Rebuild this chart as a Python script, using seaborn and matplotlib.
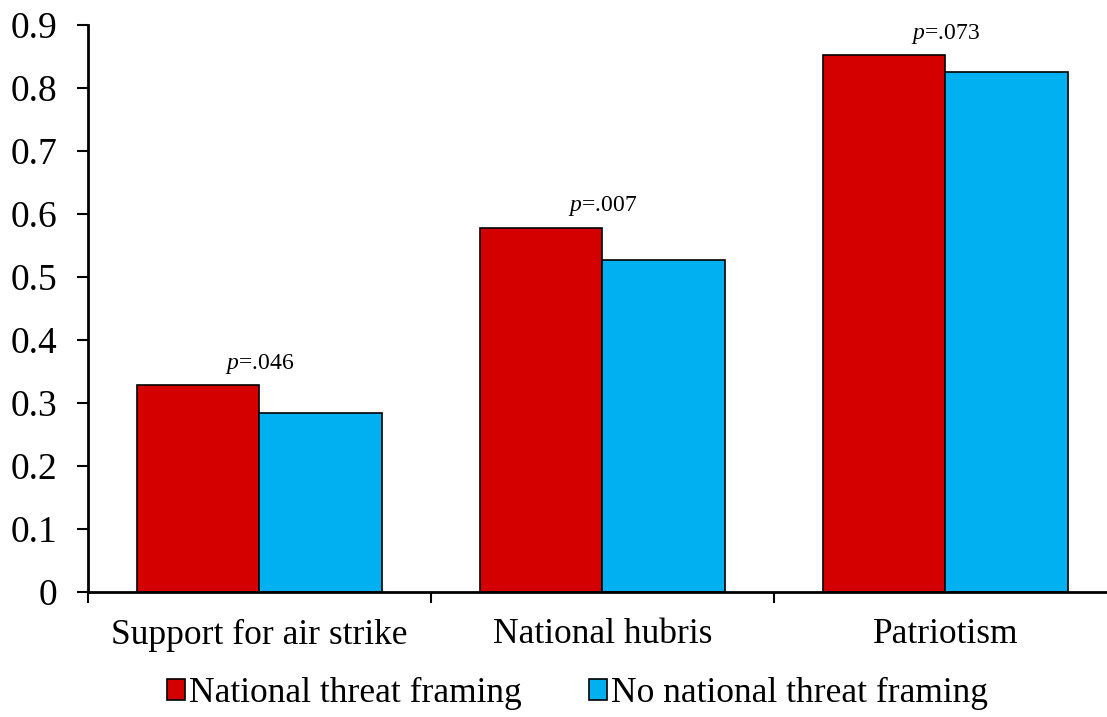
import numpy as np
import pandas as pd
import matplotlib
matplotlib.use('Agg')
import matplotlib.pyplot as plt
import seaborn as sns

categories = ['Support for air strike', 'National hubris', 'Patriotism']
groups = ['National threat framing', 'No national threat framing']
threat_vals = [0.328, 0.578, 0.852]
no_threat_vals = [0.284, 0.527, 0.825]
p_labels = ['.046', '.007', '.073']
colors = ['#D40000', '#00B0F0']

df = pd.DataFrame({
    'category': categories * 2,
    'group': [groups[0]] * 3 + [groups[1]] * 3,
    'value': threat_vals + no_threat_vals,
})

sns.set_style('white')
plt.rcParams['font.family'] = ['Liberation Serif', 'DejaVu Serif']
plt.rcParams['mathtext.fontset'] = 'custom'
plt.rcParams['mathtext.it'] = 'Liberation Serif:italic'
plt.rcParams['mathtext.rm'] = 'Liberation Serif'
plt.rcParams['text.color'] = 'black'
plt.rcParams['xtick.color'] = 'black'
plt.rcParams['ytick.color'] = 'black'

fig = plt.figure(figsize=(11.07, 7.17), dpi=100)
# axis runs past the right edge of the figure, as in the original
ax = fig.add_axes([0.0795, 0.1743, 0.9295, 0.7907])

sns.barplot(data=df, x='category', y='value', hue='group', palette=colors,
            width=0.717, edgecolor='black', linewidth=1.2, saturation=1,
            ax=ax, legend=True)

# p-value annotations above each pair
for i, (tv, p) in enumerate(zip(threat_vals, p_labels)):
    ax.text(i, tv + 0.015, r'$\it{p}$=' + p, ha='center', va='bottom', fontsize=17)

ax.set_ylim(0, 0.9)
ax.set_xlim(-0.5, 2.5)
ax.set_yticks(np.arange(0, 0.91, 0.1))
ax.set_yticklabels(['0'] + [f'{v:.1f}' for v in np.arange(0.1, 0.91, 0.1)])
ax.set_xticks(range(3))
ax.set_xticklabels(categories)
ax.set_xticks([-0.5, 0.5, 1.5, 2.5], minor=True)
ax.tick_params(axis='x', which='major', length=0, pad=19, labelsize=25.5)
ax.tick_params(axis='x', which='minor', length=8, width=1.5, direction='out', bottom=True)
ax.tick_params(axis='y', length=8, width=1.5, direction='out', left=True, labelsize=27, pad=14)
ax.set_xlabel('')
ax.set_ylabel('')

sns.despine(ax=ax)
for s in ['left', 'bottom']:
    ax.spines[s].set_linewidth(2)
    ax.spines[s].set_color('black')

leg = ax.legend(loc='center', bbox_to_anchor=(0.522, 0.033), bbox_transform=fig.transFigure,
                ncol=2, frameon=False, fontsize=25.5, handlelength=0.5, handleheight=0.55,
                handletextpad=0.12, columnspacing=1.9, borderpad=0)

fig.savefig('out.png', dpi=100)
